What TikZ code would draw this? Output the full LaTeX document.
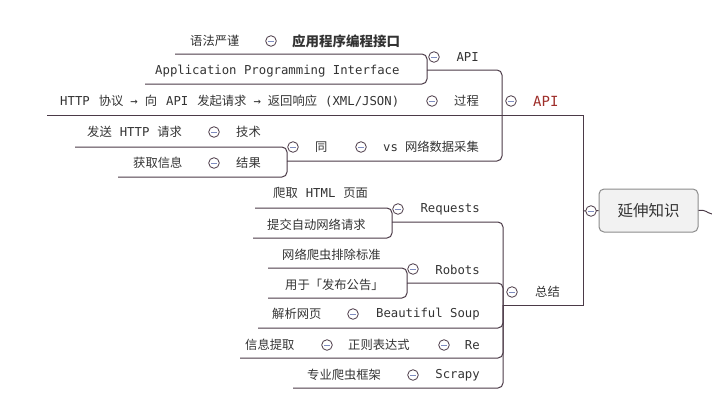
\documentclass[tikz,border=0pt]{standalone}
\usepackage{fontspec}
\setmainfont{DejaVu Sans Mono}
\newfontfamily\cjk{Noto Sans CJK SC}
\newcommand\zh[1]{{\cjk #1}}
\definecolor{branch}{HTML}{4B3A47}
\definecolor{ink}{HTML}{333333}
\definecolor{apired}{HTML}{9E2E2A}
\definecolor{minusblue}{HTML}{7F8CC0}
\definecolor{rootfill}{HTML}{F2F2F2}
\definecolor{rootline}{HTML}{8C8C8C}
\tikzset{
  txt/.style={text=ink, inner sep=0pt, anchor=west, font=\fontsize{12.3}{14}\selectfont},
  txtr/.style={txt, anchor=east},
  link/.style={draw=branch, line width=1pt, rounded corners=5pt},
  stem/.style={draw=branch, line width=1pt},
  fold/.pic={
    \draw[branch, fill=white, line width=0.8pt] (0,0) circle (5.3pt);
    \draw[minusblue, line width=0.8pt] (-2.8,0) -- (2.8,0);
  }
}
\begin{document}
\begin{tikzpicture}[x=1pt,y=-1pt]
\useasboundingbox (0,0) rectangle (712,418);

% ---------- root ----------
\node[draw=rootline, fill=rootfill, line width=1pt, rounded corners=5pt,
      minimum width=99pt, minimum height=43pt, text=ink,
      font=\cjk\fontsize{15.5}{18}\selectfont] (root) at (648.5,210.5) {延伸知识};
\coordinate (offR) at (712,214);
\draw[stem] (root.east) .. controls (705,209) and (707,213) .. (offR);

% junction points of the branch trees
\coordinate (jroot) at (583,211);
\coordinate (japi)  at (502,115);
\coordinate (jsum)  at (503,305);
\coordinate (jsub)  at (427,70);
\coordinate (jtong) at (287,161);
\coordinate (jreq)  at (392,222);
\coordinate (jrob)  at (407,283);

% ---------- API branch ----------
\node[txt] (t1) at (190,41) {\zh{语法严谨}};
\node[txt, font=\cjk\bfseries\fontsize{13.5}{16}\selectfont] (t2) at (292,41) {应用程序编程接口};
\node[txt] (t3) at (155,71) {Application Programming Interface};
\node[txtr] (t4) at (479,57) {API};
\node[txt] (t5) at (60,101) {HTTP\hspace{9pt}\zh{协议}\hspace{7pt}→\hspace{7pt}\zh{向}\hspace{9pt}API\hspace{9pt}\zh{发起请求}\hspace{7pt}→\hspace{7pt}\zh{返回响应}\hspace{8pt}(XML/JSON)};
\node[txtr] (t6) at (479,101) {\zh{过程}};
\node[txt, text=apired, font=\fontsize{14}{16}\selectfont] (t7) at (533,101) {API};
\node[txt] (t8) at (87,132) {\zh{发送}\hspace{8pt}HTTP\hspace{8pt}\zh{请求}};
\node[txt] (t9) at (236,132) {\zh{技术}};
\node[txt] (t10) at (133,163) {\zh{获取信息}};
\node[txt] (t11) at (236,163) {\zh{结果}};
\node[txt] (t12) at (315,147) {\zh{同}};
\node[txtr] (t13) at (479,147) {vs\hspace{7pt}\zh{网络数据采集}};

\draw[stem] (jroot) -- (root.west);
\draw[stem] (jroot) -- (583,115) -- (japi);
\draw[link] (japi) -- (502,70) -- (jsub);
\draw[link] (jsub) -- (427,54) -- (175,54);
\draw[link] (jsub) -- (427,84) -- (145,84);
\draw[stem] (japi) -- (47,115);
\draw[link] (japi) -- (502,161) -- (jtong);
\draw[link] (jtong) -- (287,147) -- (75,147);
\draw[link] (jtong) -- (287,177) -- (118,177);

% ---------- summary branch ----------
\node[txt] (b1) at (273,193) {\zh{爬取}\hspace{8pt}HTML\hspace{8pt}\zh{页面}};
\node[txt] (b2) at (267,225) {\zh{提交自动网络请求}};
\node[txtr] (b3) at (480,209) {Requests};
\node[txt] (b4) at (282,255) {\zh{网络爬虫排除标准}};
\node[txt] (b5) at (285,285) {\zh{用于「发布公告」}};
\node[txtr] (b6) at (480,270) {Robots};
\node[txt] (b7) at (272,314) {\zh{解析网页}};
\node[txtr] (b8) at (480,314) {Beautiful Soup};
\node[txt] (b9) at (245,345) {\zh{信息提取}};
\node[txt] (b10) at (348,345) {\zh{正则表达式}};
\node[txtr] (b11) at (480,345) {Re};
\node[txt] (b12) at (307,375) {\zh{专业爬虫框架}};
\node[txtr] (b13) at (480,375) {Scrapy};
\node[txt] (b14) at (535,292) {\zh{总结}};

\draw[stem] (jroot) -- (583,305) -- (jsum);
\draw[link] (jsum) -- (503,222) -- (jreq);
\draw[link] (jreq) -- (392,208) -- (255,208);
\draw[link] (jreq) -- (392,238) -- (253,238);
\draw[link] (jsum) -- (503,283) -- (jrob);
\draw[link] (jrob) -- (407,268) -- (268,268);
\draw[link] (jrob) -- (407,298) -- (268,298);
\draw[link] (jsum) -- (503,328) -- (258,328);
\draw[link] (jsum) -- (503,358) -- (240,358);
\draw[link] (jsum) -- (503,388) -- (293,388);

% ---------- fold markers ----------
\foreach \p in {(271,41),(434,57),(432,101),(511,101),(214,132),(214,163),
                (293,147),(361,147),(591,211),(398,209),(413,269),(512,292),
                (353,314),(327,345),(444,345),(413,375)}
  \pic at \p {fold};
\end{tikzpicture}
\end{document}
